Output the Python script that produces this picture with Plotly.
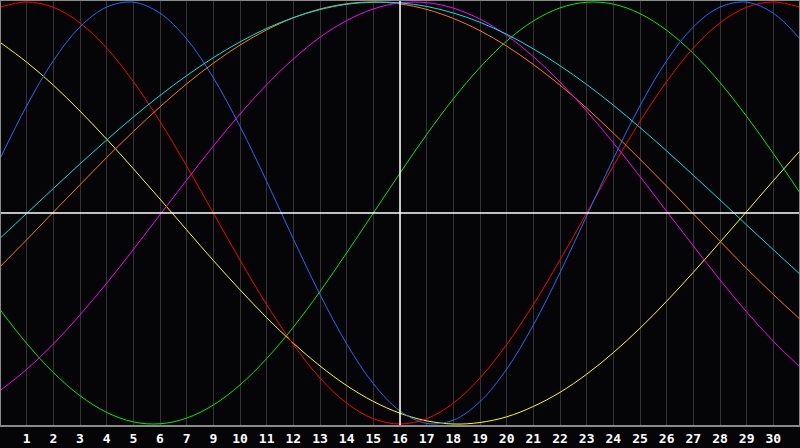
import plotly.graph_objects as go

# day index 0..30 across the chart (gridlines at 1..29)
days = list(range(31))
tick_pos = list(range(1, 30))
tick_labels = ["1", "2", "3", "4", "5", "6", "7", "9", "10", "11", "12", "13", "14", "15",
               "16", "17", "18", "19", "20", "21", "22", "23", "24", "25", "26", "27", "28",
               "29", "30"]
today_pos = 15

red = [0.975, 1.000, 0.975, 0.901, 0.782, 0.623, 0.434, 0.223, 0.0, -0.223, -0.434, -0.623,
       -0.782, -0.901, -0.975, -1.000, -0.975, -0.901, -0.782, -0.623, -0.434, -0.223, 0.0,
       0.223, 0.434, 0.623, 0.782, 0.901, 0.975, 1.000, 0.975]
blue = [0.257, 0.508, 0.722, 0.882, 0.976, 0.999, 0.947, 0.825, 0.641, 0.411, 0.150, -0.123,
        -0.386, -0.620, -0.809, -0.938, -0.997, -0.982, -0.894, -0.740, -0.531, -0.283, -0.014,
        0.257, 0.508, 0.722, 0.882, 0.976, 0.999, 0.947, 0.825]
green = [-0.458, -0.618, -0.756, -0.866, -0.945, -0.990, -0.999, -0.972, -0.910, -0.815, -0.690,
         -0.541, -0.372, -0.189, 0.0, 0.189, 0.372, 0.541, 0.690, 0.815, 0.910, 0.972, 0.999,
         0.990, 0.945, 0.866, 0.756, 0.618, 0.458, 0.282, 0.095]
yellow = [0.809, 0.715, 0.606, 0.483, 0.350, 0.210, 0.066, -0.080, -0.225, -0.364, -0.496,
          -0.617, -0.725, -0.818, -0.893, -0.949, -0.985, -1.000, -0.993, -0.966, -0.917,
          -0.850, -0.764, -0.662, -0.546, -0.418, -0.281, -0.138, 0.007, 0.153, 0.295]
cyan = [-0.120, -0.002, 0.116, 0.233, 0.346, 0.455, 0.557, 0.651, 0.736, 0.811, 0.875, 0.926,
        0.964, 0.989, 0.999, 0.996, 0.979, 0.948, 0.904, 0.847, 0.778, 0.698, 0.609, 0.511,
        0.405, 0.294, 0.179, 0.062, -0.057, -0.174, -0.290]
orange = [-0.255, -0.127, 0.004, 0.134, 0.263, 0.386, 0.503, 0.612, 0.710, 0.796, 0.868, 0.925,
          0.967, 0.992, 1.000, 0.991, 0.965, 0.922, 0.864, 0.791, 0.704, 0.606, 0.497, 0.379,
          0.255, 0.127, -0.004, -0.134, -0.263, -0.386, -0.503]
magenta = [-0.842, -0.741, -0.621, -0.483, -0.333, -0.173, -0.008, 0.156, 0.317, 0.469, 0.608,
           0.730, 0.833, 0.912, 0.967, 0.996, 0.997, 0.971, 0.919, 0.842, 0.741, 0.621, 0.483,
           0.333, 0.173, 0.008, -0.156, -0.317, -0.469, -0.608, -0.730]

series = [
    ("green", green, "#00ee00"),
    ("yellow", yellow, "#ffff00"),
    ("red", red, "#ff0000"),
    ("blue", blue, "#1e6bff"),
    ("orange", orange, "#ff7f00"),
    ("magenta", magenta, "#ff00ff"),
    ("cyan", cyan, "#00e5e5"),
]

fig = go.Figure()
for name, vals, col in series:
    fig.add_trace(go.Scatter(x=days, y=vals, mode="lines", name=name,
                             line=dict(color=col, width=1, shape="spline", smoothing=1.0),
                             hoverinfo="skip"))

bg = "#050508"
fig.update_layout(
    width=800, height=448,
    margin=dict(l=0, r=0, t=0, b=22, autoexpand=False),
    paper_bgcolor=bg, plot_bgcolor=bg,
    showlegend=False,
    xaxis=dict(range=[0, 30], tickmode="array", tickvals=tick_pos, ticktext=tick_labels,
               showgrid=True, gridcolor="#333333", gridwidth=1, zeroline=False,
               showline=False, ticks="", ticklabelstandoff=3,
               tickfont=dict(family="DejaVu Sans Mono", size=13, color="white", weight="bold")),
    yaxis=dict(range=[-1.0095, 1.0095], showgrid=False, zeroline=False, showticklabels=False,
               showline=False, ticks=""),
)

# white cross lines: today and zero
fig.add_shape(type="line", xref="x", yref="paper", x0=today_pos, x1=today_pos, y0=0, y1=1,
              line=dict(color="white", width=1.5))
fig.add_shape(type="line", xref="paper", yref="y", x0=0, x1=1, y0=0, y1=0,
              line=dict(color="white", width=1.5))
# gray frame
fig.add_shape(type="rect", xref="paper", yref="paper", x0=0, x1=1, y0=0, y1=1,
              line=dict(color="#8a8a8a", width=2), layer="above")

fig.write_html("out.html", config={"displayModeBar": False},
               post_script="document.body.style.margin='0';document.body.style.overflow='hidden';"
                           "document.body.style.background='#050508';")
